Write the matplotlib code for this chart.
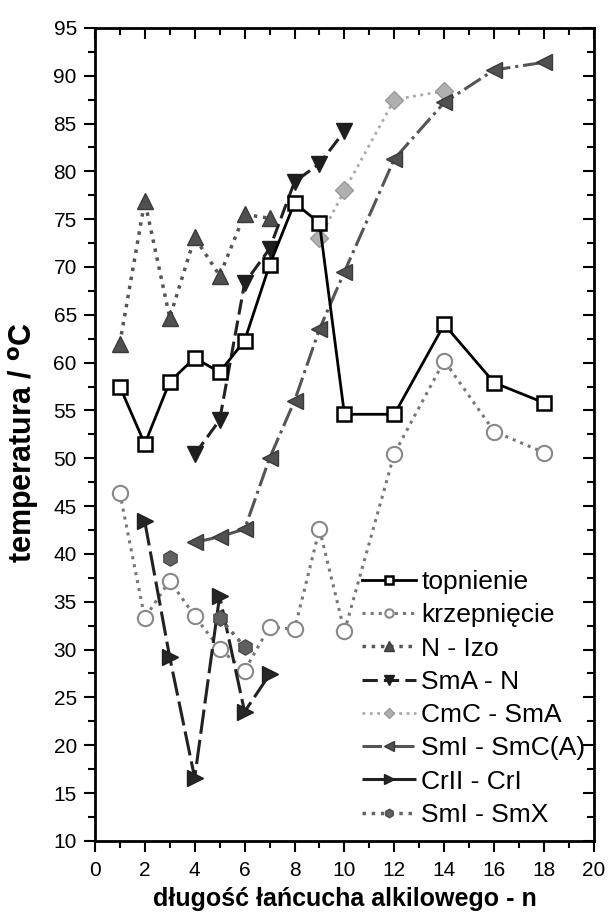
import numpy as np
import matplotlib.pyplot as plt
from matplotlib.ticker import MultipleLocator

plt.rcParams['font.family'] = ['Liberation Sans', 'DejaVu Sans']

n_full = [1, 2, 3, 4, 5, 6, 7, 8, 9, 10, 12, 14, 16, 18]
topnienie = [57.5, 51.5, 58.0, 60.5, 59.0, 62.3, 70.2, 76.7, 74.6, 54.6, 54.6, 64.0, 57.9, 55.8]
krzepniecie = [46.4, 33.3, 37.2, 33.5, 30.1, 27.8, 32.4, 32.1, 42.6, 31.9, 50.5, 60.2, 52.8, 50.6]

n_nizo = [1, 2, 3, 4, 5, 6, 7]
n_izo = [62.0, 76.9, 64.7, 73.1, 69.1, 75.5, 75.1]

n_sman = [4, 5, 6, 7, 8, 9, 10]
sma_n = [50.4, 54.0, 68.3, 71.9, 78.9, 80.8, 84.2]

n_cmc = [9, 10, 12, 14]
cmc_sma = [73.0, 78.0, 87.5, 88.4]

n_smi = [4, 5, 6, 7, 8, 9, 10, 12, 14, 16, 18]
smi_smc = [41.2, 41.8, 42.6, 50.0, 56.0, 63.5, 69.5, 81.3, 87.2, 90.6, 91.4]

n_cr = [2, 3, 4, 5, 6, 7]
crii_cri = [43.4, 29.2, 16.6, 35.6, 23.5, 27.4]

n_smx = [3, 4, 5, 6]
smi_smx = [39.6, np.nan, 33.3, 30.3]

fig = plt.figure(figsize=(6.08, 9.14), dpi=100)
ax = fig.add_axes([0.156, 0.080, 0.821, 0.8895])

ax.plot(n_full, topnienie, '-', color='black', lw=2, marker='s', ms=10,
        mfc='white', mec='black', mew=1.8, label='topnienie', zorder=5)
ax.plot(n_full, krzepniecie, ':', color='#777777', lw=2.2, marker='o', ms=11,
        mfc='white', mec='#888888', mew=1.5, label='krzepnięcie', zorder=4)
ax.plot(n_nizo, n_izo, ':', color='#555555', lw=2.5, marker='^', ms=12,
        mfc='#505050', mec='#3a3a3a', label='N - Izo', zorder=4)
ax.plot(n_sman, sma_n, '--', color='#222222', lw=2.2, dashes=(5, 2), marker='v', ms=12,
        mfc='#1e1e1e', mec='#1e1e1e', label='SmA - N', zorder=4)
ax.plot(n_cmc, cmc_sma, ':', color='#aaaaaa', lw=2, marker='D', ms=9,
        mfc='#b0b0b0', mec='#999999', label='CmC - SmA', zorder=3)
ax.plot(n_smi, smi_smc, '-.', color='#555555', lw=2.2, marker='<', ms=12,
        mfc='#505050', mec='#3a3a3a', label='SmI - SmC(A)', zorder=4)
ax.plot(n_cr, crii_cri, '--', color='#222222', lw=2.2, dashes=(8, 2), marker='>', ms=12,
        mfc='#262626', mec='#1e1e1e', label='CrII - CrI', zorder=4)
ax.plot(n_smx, smi_smx, ':', color='#666666', lw=2.5, marker='h', ms=11,
        mfc='#606060', mec='#4a4a4a', label='SmI - SmX', zorder=4)

ax.set_xlim(0, 20)
ax.set_ylim(10, 95)
ax.xaxis.set_major_locator(MultipleLocator(2))
ax.xaxis.set_minor_locator(MultipleLocator(1))
ax.yaxis.set_major_locator(MultipleLocator(5))
ax.yaxis.set_minor_locator(MultipleLocator(2.5))
ax.tick_params(which='both', direction='out', width=1.5, labelsize=15)
ax.tick_params(which='major', length=8)
ax.tick_params(which='minor', length=5)
ax.tick_params(axis='x', pad=6.5)
ax.tick_params(axis='y', pad=5)
for s in ax.spines.values():
    s.set_linewidth(2)

# mirrored ticks pointing inward on top and right
top = ax.secondary_xaxis('top')
top.xaxis.set_major_locator(MultipleLocator(2))
top.xaxis.set_minor_locator(MultipleLocator(1))
top.tick_params(which='both', direction='in', width=1.5, labeltop=False)
top.tick_params(which='major', length=8)
top.tick_params(which='minor', length=5)
right = ax.secondary_yaxis('right')
right.yaxis.set_major_locator(MultipleLocator(5))
right.yaxis.set_minor_locator(MultipleLocator(2.5))
right.tick_params(which='both', direction='in', width=1.5, labelright=False)
right.tick_params(which='major', length=8)
right.tick_params(which='minor', length=5)

ax.set_xlabel('długość łańcucha alkilowego - n', fontsize=18, fontweight='bold', va='center')
ax.xaxis.set_label_coords(0.5, -0.071)
ax.set_ylabel(r'temperatura / $\mathbf{^{o}}$C', fontsize=22, fontweight='bold', va='center')
ax.yaxis.set_label_coords(-0.143, 0.49)

ax.legend(loc='upper left', bbox_to_anchor=(0.535, 0.333), frameon=False, fontsize=19,
          handlelength=2.05, handletextpad=0.2, labelspacing=0.35, markerscale=0.55,
          borderaxespad=0, borderpad=0)

fig.savefig('out.png', dpi=100)
